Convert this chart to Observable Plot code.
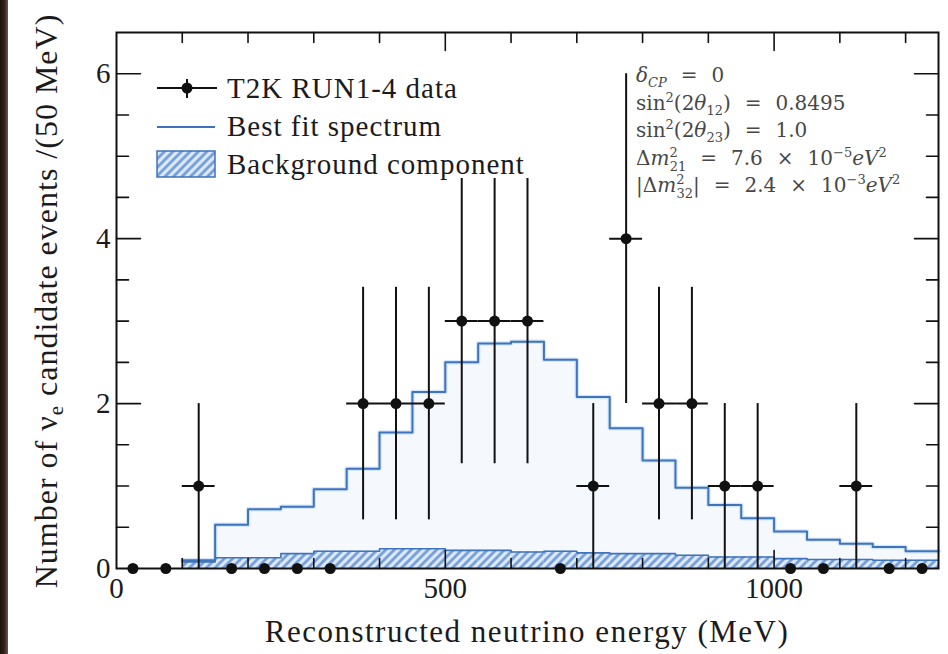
<!DOCTYPE html>
<html>
<head>
<meta charset="utf-8">
<script src="https://cdn.jsdelivr.net/npm/d3@7"></script>
<script src="https://cdn.jsdelivr.net/npm/@observablehq/plot@0.6"></script>
<style>
  html, body { margin: 0; padding: 0; background: #ffffff; }
  #wrap { position: relative; width: 948px; height: 654px; overflow: hidden; background: #ffffff; }
  #wrap svg { position: absolute; left: 0; top: 0; }
  #border { position: absolute; left: 0; top: 0; width: 8px; height: 654px;
            background: linear-gradient(90deg, #1c120b 0%, #33231a 55%, #6a5a4c 100%); z-index: 2; }
</style>
</head>
<body>
<div id="wrap"><div id="border"></div></div>
<script>
// ---- data ----
const binCenters = [25, 75, 125, 175, 225, 275, 325, 375, 425, 475, 525, 575, 625,
                    675, 725, 775, 825, 875, 925, 975, 1025, 1075, 1125, 1175, 1225];
const counts     = [0, 0, 1, 0, 0, 0, 0, 2, 2, 2, 3, 3, 3, 0, 1, 4, 2, 2, 1, 1, 0, 0, 1, 0, 0];
const countErr   = [0, 0, 1, 0, 0, 0, 0, 1.41, 1.41, 1.41, 1.73, 1.73, 1.73, 0, 1, 2,
                    1.41, 1.41, 1, 1, 0, 0, 1, 0, 0];
const halfBinWidth = 25;

const fitBinLow  = [100, 150, 200, 250, 300, 350, 400, 450, 500, 550, 600, 650,
                    700, 750, 800, 850, 900, 950, 1000, 1050, 1100, 1150, 1200];
const fitBinHigh = 1250;
const bestFit    = [0.10, 0.53, 0.72, 0.75, 0.96, 1.21, 1.65, 2.14, 2.50, 2.73, 2.75, 2.53,
                    2.08, 1.70, 1.31, 0.98, 0.77, 0.61, 0.45, 0.35, 0.30, 0.26, 0.21];
const background = [0.08, 0.13, 0.13, 0.18, 0.21, 0.21, 0.24, 0.24, 0.22, 0.22, 0.20, 0.21,
                    0.19, 0.18, 0.18, 0.16, 0.14, 0.14, 0.12, 0.11, 0.11, 0.10, 0.10];

const xDomain = [0, 1250];
const yDomain = [0, 6.5];
const xTickLabels = [0, 500, 1000];
const yTickLabels = [0, 2, 4, 6];
const xMajorTicks = [500, 1000];
const xMinorTicks = [100, 200, 300, 400, 600, 700, 800, 900, 1100, 1200];
const yMajorTicks = [2, 4, 6];
const yMinorTicks = [0.5, 1, 1.5, 2.5, 3, 3.5, 4.5, 5, 5.5];

// ---- tables built from the arrays ----
const points = binCenters.map((x, i) => ({x, y: counts[i], err: countErr[i]}));
const fitSteps = fitBinLow.map((x, i) => ({x, y: bestFit[i]}))
  .concat([{x: fitBinHigh, y: bestFit[bestFit.length - 1]}]);
const bkgSteps = fitBinLow.map((x, i) => ({x, y: background[i]}))
  .concat([{x: fitBinHigh, y: background[background.length - 1]}]);
const bkgBins = fitBinLow.map((x, i) => ({
  x1: x, x2: i + 1 < fitBinLow.length ? fitBinLow[i + 1] : fitBinHigh, y: background[i]
}));

const tickShape = {draw(context, l) { context.moveTo(0, 0); context.lineTo(0, -l); }};
const tickMarks = (values, channel, frameAnchor, rotate, length) =>
  Plot.vector(values, {[channel]: d => d, frameAnchor, rotate, length, anchor: "start",
                       shape: tickShape, stroke: "#111", strokeWidth: 1.6});

const blue = "#3f73bb";

const chart = Plot.plot({
  width: 948,
  height: 654,
  marginLeft: 116,
  marginRight: 10,
  marginTop: 32,
  marginBottom: 86,
  style: {fontFamily: "'Liberation Serif', serif", fontSize: "29px", color: "#1b1b1b",
          background: "transparent", overflow: "visible"},
  x: {domain: xDomain, ticks: xTickLabels, tickSize: 0, tickPadding: 9,
      tickFormat: d => String(d), label: null},
  y: {domain: yDomain, ticks: yTickLabels, tickSize: 0, tickPadding: 6,
      tickFormat: d => String(d), label: null},
  marks: [
    // faint halo under best fit line
    Plot.areaY(fitSteps, {x: "x", y: "y", curve: "step-after", fill: "#f5f9fe"}),
    Plot.lineY(fitSteps, {x: "x", y: "y", curve: "step-after", stroke: "#d3e6fa", strokeWidth: 4.5}),
    // background component
    Plot.rectY(bkgBins, {x1: "x1", x2: "x2", y: "y", fill: "url(#hatch)", inset: 0}),
    Plot.lineY(bkgSteps, {x: "x", y: "y", curve: "step-after", stroke: blue, strokeWidth: 1.6}),
    // best fit spectrum
    Plot.lineY(fitSteps, {x: "x", y: "y", curve: "step-after", stroke: blue, strokeWidth: 2}),
    // data with error bars
    Plot.ruleX(points.filter(d => d.err > 0),
      {x: "x", y1: d => d.y - d.err, y2: d => d.y + d.err, stroke: "#111", strokeWidth: 2}),
    Plot.ruleY(points.filter(d => d.y > 0),
      {y: "y", x1: d => d.x - halfBinWidth, x2: d => d.x + halfBinWidth, stroke: "#111", strokeWidth: 2}),
    Plot.dot(points, {x: "x", y: "y", r: 5.5, fill: "#111", stroke: "none"}),
    // inward ticks on all four sides
    tickMarks(xMinorTicks, "x", "bottom", 0, 10),
    tickMarks(xMajorTicks, "x", "bottom", 0, 18),
    tickMarks(xMinorTicks, "x", "top", 180, 10),
    tickMarks(xMajorTicks, "x", "top", 180, 18),
    tickMarks(yMinorTicks, "y", "left", 90, 12),
    tickMarks(yMajorTicks, "y", "left", 90, 24),
    tickMarks(yMinorTicks, "y", "right", -90, 12),
    tickMarks(yMajorTicks, "y", "right", -90, 24),
    Plot.frame({stroke: "#111", strokeWidth: 2})
  ]
});

document.getElementById("wrap").appendChild(chart);

// ---- hatch pattern, legend, titles, annotation ----
const svg = d3.select(chart);
const defs = svg.insert("defs", ":first-child");
const pat = defs.append("pattern").attr("id", "hatch").attr("patternUnits", "userSpaceOnUse")
  .attr("width", 6).attr("height", 6).attr("patternTransform", "rotate(45)");
pat.append("rect").attr("width", 6).attr("height", 6).attr("fill", "#dce8f8");
pat.append("line").attr("x1", 1.5).attr("y1", 0).attr("x2", 1.5).attr("y2", 6)
  .attr("stroke", "#6e9ad6").attr("stroke-width", 2.6);

const serif = "'Liberation Serif', serif";
const g = svg.append("g").attr("font-family", serif).attr("fill", "#1b1b1b")
  .attr("text-anchor", "start");

// axis titles
g.append("text").attr("x", 527).attr("y", 642).attr("text-anchor", "middle")
  .attr("font-size", 31).attr("letter-spacing", 1.5).text("Reconstructed neutrino energy (MeV)");
const yl = g.append("text").attr("transform", "translate(57,301) rotate(-90)")
  .attr("text-anchor", "middle").attr("font-size", 32).attr("letter-spacing", 1);
yl.append("tspan").text("Number of ν");
yl.append("tspan").attr("font-size", 21).attr("dy", 6).text("e");
yl.append("tspan").attr("dy", -6).text(" candidate events /(50 MeV)");

// legend
const lg = g.append("g").attr("font-size", 29).attr("letter-spacing", 1);
lg.append("line").attr("x1", 157).attr("x2", 217).attr("y1", 88).attr("y2", 88)
  .attr("stroke", "#111").attr("stroke-width", 2);
lg.append("line").attr("x1", 187).attr("x2", 187).attr("y1", 79).attr("y2", 98)
  .attr("stroke", "#111").attr("stroke-width", 2);
lg.append("circle").attr("cx", 187).attr("cy", 88).attr("r", 5.5).attr("fill", "#111");
lg.append("text").attr("x", 227).attr("y", 98).text("T2K RUN1-4 data");
lg.append("line").attr("x1", 157).attr("x2", 215).attr("y1", 127).attr("y2", 127)
  .attr("stroke", blue).attr("stroke-width", 2);
lg.append("text").attr("x", 227).attr("y", 136).text("Best fit spectrum");
lg.append("rect").attr("x", 157).attr("y", 151).attr("width", 58).attr("height", 26)
  .attr("fill", "url(#hatch)").attr("stroke", blue).attr("stroke-width", 1.5);
lg.append("text").attr("x", 227).attr("y", 174).text("Background component");

// oscillation parameters
const pg = g.append("g").attr("font-size", 20).attr("fill", "#474747")
  .attr("font-family", "'DejaVu Serif', serif");
const px = 636, py0 = 82, dyLine = 27.5;
const sp = "\u2002\u2009";
const ss = 13;
function line(i) { return pg.append("text").attr("x", px).attr("y", py0 + i * dyLine).attr("xml:space", "preserve"); }
let t = line(0);
t.append("tspan").attr("font-style", "italic").text("δ");
t.append("tspan").attr("font-size", ss).attr("font-style", "italic").attr("dy", 5).text("CP");
t.append("tspan").attr("dy", -5).text(sp + "=" + sp + "0");
t = line(1);
t.append("tspan").text("sin");
t.append("tspan").attr("font-size", ss).attr("dy", -8).text("2");
t.append("tspan").attr("dy", 8).text("(2");
t.append("tspan").attr("font-style", "italic").text("θ");
t.append("tspan").attr("font-size", ss).attr("dy", 5).text("12");
t.append("tspan").attr("dy", -5).text(")" + sp + "=" + sp + "0.8495");
t = line(2);
t.append("tspan").text("sin");
t.append("tspan").attr("font-size", ss).attr("dy", -8).text("2");
t.append("tspan").attr("dy", 8).text("(2");
t.append("tspan").attr("font-style", "italic").text("θ");
t.append("tspan").attr("font-size", ss).attr("dy", 5).text("23");
t.append("tspan").attr("dy", -5).text(")" + sp + "=" + sp + "1.0");
t = line(3);
t.append("tspan").text("Δ");
t.append("tspan").attr("font-style", "italic").text("m");
t.append("tspan").attr("font-size", ss).attr("dy", -8).text("2");
t.append("tspan").attr("font-size", ss).attr("dx", -8).attr("dy", 14).text("21");
t.append("tspan").attr("dy", -6).text(sp + "=" + sp + "7.6" + sp + "×" + sp + "10");
t.append("tspan").attr("font-size", ss).attr("dy", -8).text("−5");
t.append("tspan").attr("dy", 8).attr("font-style", "italic").text("eV");
t.append("tspan").attr("font-size", ss).attr("dy", -8).text("2");
t = line(4);
t.append("tspan").text("|Δ");
t.append("tspan").attr("font-style", "italic").text("m");
t.append("tspan").attr("font-size", ss).attr("dy", -8).text("2");
t.append("tspan").attr("font-size", ss).attr("dx", -8).attr("dy", 14).text("32");
t.append("tspan").attr("dy", -6).text("|" + sp + "=" + sp + "2.4" + sp + "×" + sp + "10");
t.append("tspan").attr("font-size", ss).attr("dy", -8).text("−3");
t.append("tspan").attr("dy", 8).attr("font-style", "italic").text("eV");
t.append("tspan").attr("font-size", ss).attr("dy", -8).text("2");
</script>
</body>
</html>
